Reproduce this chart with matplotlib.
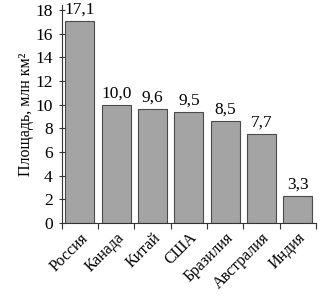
import matplotlib
matplotlib.use('Agg')
import matplotlib.pyplot as plt
import numpy as np

plt.rcParams['font.family'] = ['Liberation Serif', 'DejaVu Serif']

countries = ['Россия', 'Канада', 'Китай', 'США', 'Бразилия', 'Австралия', 'Индия']
# heights as drawn in the picture
heights = [17.1, 10.0, 9.6, 9.4, 8.6, 7.5, 2.3]
# value labels as printed above bars
valueLabels = ['17,1', '10,0', '9,6', '9,5', '8,5', '7,7', '3,3']
yTicks = [0, 2, 4, 6, 8, 10, 12, 14, 16, 18]

fig = plt.figure(figsize=(3.29, 2.97), dpi=100)
ax = fig.add_axes([0.1875, 0.249, 0.773, 0.733])

x = np.arange(len(countries))
bars = ax.bar(x, heights, width=0.8, color='#a4a4a4', edgecolor='#4a4a4a', linewidth=0.8)

for b, lab in zip(bars, valueLabels):
    ax.annotate(lab, (b.get_x() + b.get_width() / 2, b.get_height()),
                xytext=(0, 2.5), textcoords='offset points',
                ha='center', va='bottom', fontsize=12.5)

ax.set_xlim(-0.5, len(countries) - 0.5)
ax.set_ylim(0, 18.4)
ax.set_yticks(yTicks)
ax.set_yticklabels([str(t) for t in yTicks], fontsize=12.5)

# tick marks between bars, labels at bar centres
ax.set_xticks(np.arange(-0.5, len(countries), 1.0))
ax.set_xticklabels([])
ax.set_xticks(x, minor=True)
ax.set_xticklabels(countries, minor=True, rotation=45, ha='right',
                   rotation_mode='anchor', fontsize=11.5)
ax.tick_params(axis='x', which='minor', length=0, pad=5)
ax.tick_params(axis='x', which='major', length=4, direction='out', color='#333333')
ax.tick_params(axis='y', length=5, direction='inout', color='#333333', pad=4)

ax.spines['top'].set_visible(False)
ax.spines['right'].set_visible(False)
ax.spines['left'].set_color('#333333')
ax.spines['bottom'].set_color('#333333')

ax.set_ylabel('Площадь, млн км²', fontsize=11.5)
ax.yaxis.set_label_coords(-0.108, 0.5)

fig.savefig('out.png', dpi=100)
